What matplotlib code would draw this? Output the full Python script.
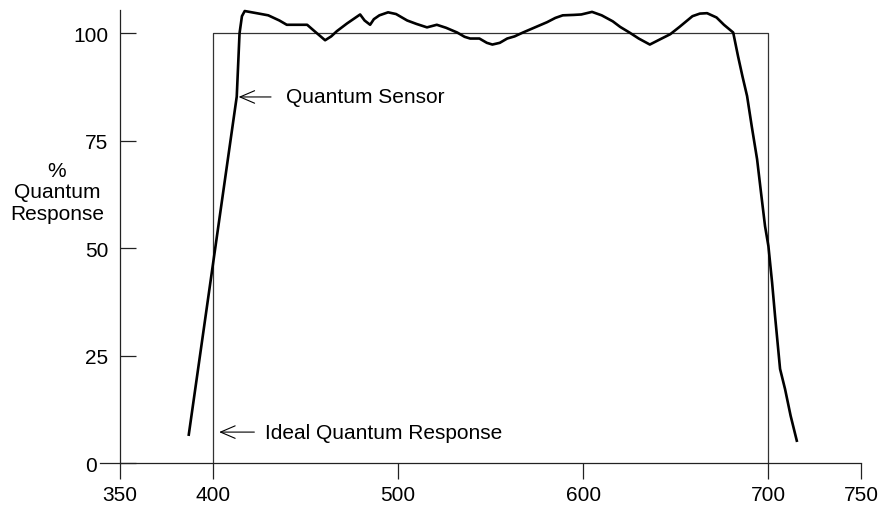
import numpy as np
from matplotlib import pyplot as plt

# wavelength (nm) and response (%)
wavelength = [387.0, 413.0, 414.5, 415.8, 417.3, 425.0, 430.0, 436.0,
              440.0, 451.0, 455.0, 460.7, 464.0, 467.0, 472.5, 479.6, 482.0, 485.0,
              487.0, 490.0, 494.7, 499.0, 505.0, 510.0, 515.7, 521.0, 526.0, 532.0,
              536.0, 539.0, 544.0, 548.0, 551.0, 555.0, 559.0, 563.0, 567.5, 574.0,
              580.5, 585.0, 589.0, 595.0, 599.0, 604.8, 610.0, 616.0, 620.0, 625.0,
              630.0, 636.0, 641.0, 647.0, 652.0, 659.0, 663.0, 666.9, 672.0, 676.0,
              681.0, 683.6, 686.0, 688.5, 691.0, 693.9, 696.0, 698.2, 700.0, 702.0,
              703.6, 706.3, 709.0, 712.0, 715.5]
response = [6.3, 85.3, 100.0, 104.0, 105.2, 104.6, 104.2, 103.0,
            102.0, 102.0, 100.5, 98.4, 99.3, 100.5, 102.3, 104.4, 103.0, 102.0,
            103.3, 104.2, 104.9, 104.5, 103.0, 102.2, 101.4, 102.0, 101.3, 100.2,
            99.2, 98.8, 98.8, 97.8, 97.4, 97.8, 98.8, 99.3, 100.2, 101.4,
            102.6, 103.6, 104.2, 104.3, 104.4, 105.0, 104.2, 102.8, 101.5, 100.2,
            98.8, 97.4, 98.5, 99.8, 101.5, 104.0, 104.6, 104.7, 103.7, 102.0,
            100.2, 94.7, 90.0, 85.4, 78.4, 70.7, 63.0, 55.1, 50.5, 42.0,
            34.2, 21.9, 17.2, 11.0, 4.9]

# ideal quantum response: flat 100 % between 400 and 700 nm
ideal_x = [400, 400, 700, 700]
ideal_y = [0, 100, 100, 0]

xticks = [350, 400, 500, 600, 700, 750]
yticks = [0, 25, 50, 75, 100]

plt.rcParams['font.family'] = ['Liberation Sans', 'DejaVu Sans']
plt.rcParams['font.size'] = 15

fig = plt.figure(figsize=(8.89, 5.06), dpi=100)
ax = fig.add_axes([83/889, 7.6/506, 805.8/889, 498.4/506])
ax.set_xlim(330, 765)
ax.set_ylim(-8, 108)

ax.plot(ideal_x, ideal_y, color='#333333', lw=0.9)
ax.plot(wavelength, response, color='black', lw=1.9,
        solid_joinstyle='round', solid_capstyle='butt')

for s in ['top', 'right']:
    ax.spines[s].set_visible(False)
ax.spines['left'].set_position(('data', 350))
ax.spines['bottom'].set_position(('data', 0))
ax.spines['left'].set_bounds(0, 105.5)
ax.spines['bottom'].set_bounds(339, 750)
for s in ['left', 'bottom']:
    ax.spines[s].set_linewidth(0.9)
    ax.spines[s].set_color('#222222')

ax.set_xticks(xticks)
ax.set_yticks(yticks)
ax.tick_params(axis='x', direction='out', length=11.5, width=0.9, pad=4.5, color='#222222')
ax.tick_params(axis='y', direction='in', length=11.5, width=0.9, pad=8.5, color='#222222')
ax.yaxis.get_major_ticks()[0].set_pad(16.5)

fig.text(57/889, 1 - 193/506, '%\nQuantum\nResponse', ha='center', va='center',
         multialignment='center', linespacing=1.15)

arrow = dict(arrowstyle='->,head_length=0.7,head_width=0.3', lw=0.8, color='black')
ax.annotate('', xy=(412.5, 85.2), xytext=(433.0, 85.2), arrowprops=arrow)
ax.text(439.5, 85.2, 'Quantum Sensor', va='center')
ax.annotate('', xy=(402.0, 7.2), xytext=(424.0, 7.2), arrowprops=arrow)
ax.text(428.0, 7.2, 'Ideal Quantum Response', va='center')

fig.savefig('out.png', dpi=100)
